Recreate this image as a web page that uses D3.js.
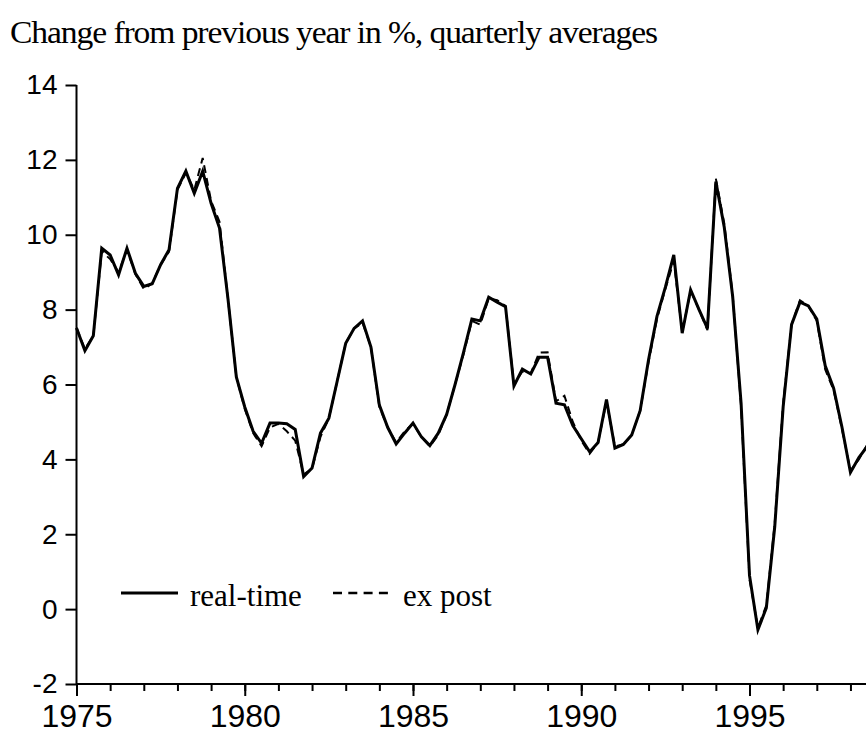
<!DOCTYPE html>
<html>
<head>
<meta charset="utf-8">
<script src="https://cdn.jsdelivr.net/npm/d3@7"></script>
<style>
	body { margin: 0; background: #fff; }
	svg { display: block; }
</style>
</head>
<body>
<div id="Chart"></div>
<script>
// quarterly series, first value is 1975 Q1
var startYear = 1975;
var realTime = [
	7.51, 6.9, 7.3, 9.64,
	9.46, 8.93, 9.64, 8.97,
	8.62, 8.69, 9.2, 9.6,
	11.24, 11.7, 11.11, 11.7,
	10.84, 10.18, 8.3, 6.2,
	5.4, 4.75, 4.43, 4.97,
	4.97, 4.95, 4.8, 3.54,
	3.77, 4.7, 5.1, 6.1,
	7.1, 7.5, 7.7, 7.0,
	5.45, 4.85, 4.41, 4.7,
	4.97, 4.6, 4.37, 4.7,
	5.2, 6.0, 6.85, 7.75,
	7.7, 8.33, 8.2, 8.08,
	5.96, 6.41, 6.28, 6.73,
	6.73, 5.5, 5.46, 4.9,
	4.55, 4.2, 4.45, 5.6,
	4.3, 4.4, 4.65, 5.3,
	6.66, 7.82, 8.6, 9.46,
	7.37, 8.53, 8.0, 7.5,
	11.42, 10.2, 8.35, 5.5,
	0.9, -0.55, 0.03, 2.2,
	5.4, 7.6, 8.2, 8.1,
	7.75, 6.5, 5.9, 4.85,
	3.65, 4.05, 4.35
];
var exPost = [
	7.51, 6.95, 7.3, 9.55,
	9.35, 9.0, 9.6, 8.95,
	8.55, 8.7, 9.2, 9.55,
	11.2, 11.65, 11.2, 12.05,
	10.9, 10.35, 8.3, 6.2,
	5.35, 4.7, 4.35, 4.85,
	4.95, 4.75, 4.5, 3.6,
	3.75, 4.6, 5.1, 6.1,
	7.1, 7.5, 7.65, 7.0,
	5.4, 4.85, 4.45, 4.75,
	4.95, 4.6, 4.35, 4.65,
	5.2, 6.0, 6.8, 7.7,
	7.6, 8.3, 8.25, 8.1,
	6.0, 6.35, 6.3, 6.85,
	6.86, 5.55, 5.7, 5.0,
	4.5, 4.15, 4.45, 5.55,
	4.35, 4.4, 4.65, 5.3,
	6.6, 7.75, 8.55, 9.3,
	7.4, 8.5, 8.0, 7.45,
	11.5, 10.3, 8.4, 5.4,
	0.8, -0.5, 0.1, 2.3,
	5.5, 7.6, 8.25, 8.1,
	7.7, 6.4, 5.85, 4.8,
	3.7, 4.0, 4.4
];
var yTicks = [-2, 0, 2, 4, 6, 8, 10, 12, 14];
var xLabelYears = [1975, 1980, 1985, 1990, 1995];
var xMinorYears = d3.range(1975, 1999);

var width = 866, height = 734;

var svg = d3.select("#Chart")
	.append("svg")
	.attr("width", width)
	.attr("height", height);

var x = d3.scaleLinear()
	.domain([1975, 1995])
	.range([76.5, 749.5]);
var y = d3.scaleLinear()
	.domain([-2, 14])
	.range([684, 85]);

// plain hyphen for negatives, like the original
function numLabel (d) { return String(d); }

// title
svg.append("text")
	.attr("x", 10)
	.attr("y", 43)
	.attr("textLength", 647)
	.attr("lengthAdjust", "spacingAndGlyphs")
	.style("font-family", "'Liberation Serif', 'Times New Roman', serif")
	.style("font-size", "31px")
	.style("letter-spacing", "-1px")
	.text("Change from previous year in %, quarterly averages");

// y axis
var yAxis = svg.append("g")
	.attr("transform", "translate(" + x(1975) + ",0)")
	.call(d3.axisLeft(y).tickValues(yTicks).tickSize(11).tickPadding(8).tickFormat(numLabel));
yAxis.select(".domain").attr("stroke-width", 2).attr("d", "M0," + y(14) + "V" + y(-2));
yAxis.selectAll(".tick line").attr("stroke-width", 2);
yAxis.selectAll(".tick text")
	.style("font-family", "'Liberation Sans', Arial, sans-serif")
	.style("font-size", "28px")
	.attr("fill", "#000");

// x axis: yearly minor ticks, labelled major ticks every 5 years
var xAxisMinor = svg.append("g")
	.attr("transform", "translate(0," + y(-2) + ")")
	.call(d3.axisBottom(x).tickValues(xMinorYears).tickSize(7).tickFormat(""));
xAxisMinor.select(".domain").attr("stroke-width", 2).attr("d", "M" + x(1975) + ",0H" + width);
xAxisMinor.selectAll(".tick line").attr("stroke-width", 2);

var xAxisMajor = svg.append("g")
	.attr("transform", "translate(0," + y(-2) + ")")
	.call(d3.axisBottom(x).tickValues(xLabelYears).tickSize(12).tickPadding(8).tickFormat(numLabel));
xAxisMajor.select(".domain").remove();
xAxisMajor.selectAll(".tick line").attr("stroke-width", 2);
xAxisMajor.selectAll(".tick text")
	.style("font-family", "'Liberation Sans', Arial, sans-serif")
	.style("font-size", "32px")
	.attr("fill", "#000");

// lines
var line = d3.line()
	.x(function(d, i) { return x(startYear + i / 4); })
	.y(function(d) { return y(d); });

svg.append("path")
	.datum(exPost)
	.attr("fill", "none")
	.attr("stroke", "#000")
	.attr("stroke-width", 2)
	.attr("stroke-dasharray", "8,5")
	.attr("d", line);

svg.append("path")
	.datum(realTime)
	.attr("fill", "none")
	.attr("stroke", "#000")
	.attr("stroke-width", 3)
	.attr("d", line);

// legend
var legend = svg.append("g");
legend.append("line")
	.attr("x1", 121).attr("x2", 178)
	.attr("y1", 593).attr("y2", 593)
	.attr("stroke", "#000").attr("stroke-width", 3);
legend.append("text")
	.attr("x", 190).attr("y", 606)
	.style("font-family", "'Liberation Serif', 'Times New Roman', serif")
	.style("font-size", "31px")
	.text("real-time");
legend.append("line")
	.attr("x1", 333).attr("x2", 388)
	.attr("y1", 593).attr("y2", 593)
	.attr("stroke", "#000").attr("stroke-width", 2.5)
	.attr("stroke-dasharray", "9,6.3");
legend.append("text")
	.attr("x", 403).attr("y", 606)
	.style("font-family", "'Liberation Serif', 'Times New Roman', serif")
	.style("font-size", "31px")
	.text("ex post");
</script>
</body>
</html>
